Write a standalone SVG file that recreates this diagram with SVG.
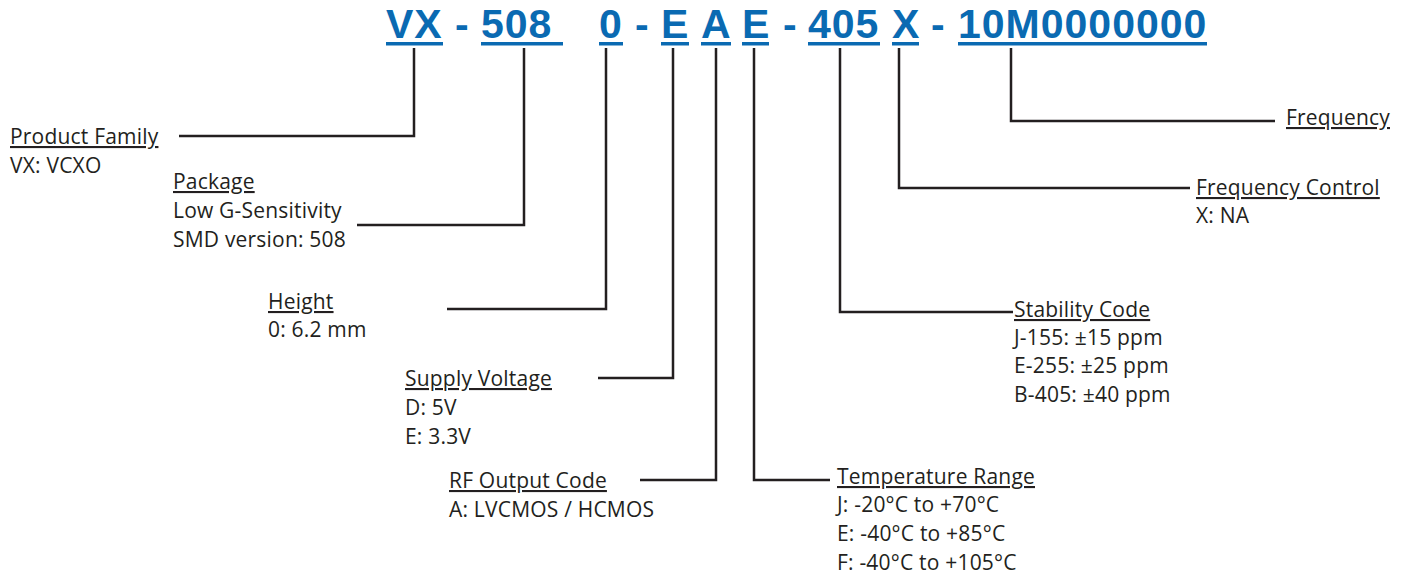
<svg xmlns="http://www.w3.org/2000/svg" width="1407" height="577" viewBox="0 0 1407 577">
<style>
.hd{font-family:"Liberation Sans",Arial,sans-serif;font-weight:bold;font-size:41px;fill:#0a6ab2;letter-spacing:1px}
.ul{fill:#0a6ab2}
.lb{font-family:"Open Sans","Liberation Sans",sans-serif;font-size:21px;letter-spacing:0.2px;fill:#231f20}
.t{text-decoration:underline}
.cn{fill:none;stroke:#231f20;stroke-width:2.5;stroke-linejoin:miter}
</style>
<rect width="1407" height="577" fill="#ffffff"/>
<g id="part-number">
<text class="hd" x="386" y="38">VX</text>
<text class="hd" x="455" y="38">-</text>
<text class="hd" x="481" y="38">508</text>
<text class="hd" x="599" y="38">0</text>
<text class="hd" x="635" y="38">-</text>
<text class="hd" x="661" y="38">E</text>
<text class="hd" x="701" y="38">A</text>
<text class="hd" x="742" y="38">E</text>
<text class="hd" x="783" y="38">-</text>
<text class="hd" x="808" y="38">405</text>
<text class="hd" x="892" y="38">X</text>
<text class="hd" x="931" y="38">-</text>
<text class="hd" x="958" y="38">10M0000000</text>
<rect class="ul" x="386" y="42" width="57" height="3.5"/>
<rect class="ul" x="481" y="42" width="82" height="3.5"/>
<rect class="ul" x="599" y="42" width="24" height="3.5"/>
<rect class="ul" x="661" y="42" width="28" height="3.5"/>
<rect class="ul" x="701" y="42" width="30" height="3.5"/>
<rect class="ul" x="742" y="42" width="27" height="3.5"/>
<rect class="ul" x="808" y="42" width="72" height="3.5"/>
<rect class="ul" x="892" y="42" width="27" height="3.5"/>
<rect class="ul" x="958" y="42" width="249" height="3.5"/>
</g>
<g id="connectors">
<polyline class="cn" points="414,48 414,136 179,136"/>
<polyline class="cn" points="524,48 524,225 357,225"/>
<polyline class="cn" points="606,48 606,309 447,309"/>
<polyline class="cn" points="673,48 673,378 598,378"/>
<polyline class="cn" points="716,48 716,480 640,480"/>
<polyline class="cn" points="754,48 754,480 830,480"/>
<polyline class="cn" points="840,48 840,312 1013,312"/>
<polyline class="cn" points="899,48 899,188 1190,188"/>
<polyline class="cn" points="1011,48 1011,121 1275,121"/>
</g>
<g id="product-family">
<text class="lb" x="10" y="144"><tspan class="t">Product Family</tspan><tspan x="10" y="173">VX: VCXO</tspan></text>
</g>
<g id="package">
<text class="lb" x="173" y="189"><tspan class="t">Package</tspan><tspan x="173" y="218">Low G-Sensitivity</tspan><tspan x="173" y="247">SMD version: 508</tspan></text>
</g>
<g id="height">
<text class="lb" x="268" y="309"><tspan class="t">Height</tspan><tspan x="268" y="337">0: 6.2 mm</tspan></text>
</g>
<g id="supply-voltage">
<text class="lb" x="405" y="386"><tspan class="t">Supply Voltage</tspan><tspan x="405" y="415">D: 5V</tspan><tspan x="405" y="444">E: 3.3V</tspan></text>
</g>
<g id="rf-output-code">
<text class="lb" x="449" y="488"><tspan class="t">RF Output Code</tspan><tspan x="449" y="517">A: LVCMOS / HCMOS</tspan></text>
</g>
<g id="temperature-range">
<text class="lb" x="837" y="484"><tspan class="t">Temperature Range</tspan><tspan x="837" y="512">J: -20°C to +70°C</tspan><tspan x="837" y="541">E: -40°C to +85°C</tspan><tspan x="837" y="570">F: -40°C to +105°C</tspan></text>
</g>
<g id="stability-code">
<text class="lb" x="1014" y="317"><tspan class="t">Stability Code</tspan><tspan x="1014" y="345">J-155: ±15 ppm</tspan><tspan x="1014" y="373">E-255: ±25 ppm</tspan><tspan x="1014" y="402">B-405: ±40 ppm</tspan></text>
</g>
<g id="frequency-control">
<text class="lb" x="1196" y="195"><tspan class="t">Frequency Control</tspan><tspan x="1196" y="223">X: NA</tspan></text>
</g>
<g id="frequency">
<text class="lb" x="1286" y="125"><tspan class="t">Frequency</tspan></text>
</g>
</svg>
